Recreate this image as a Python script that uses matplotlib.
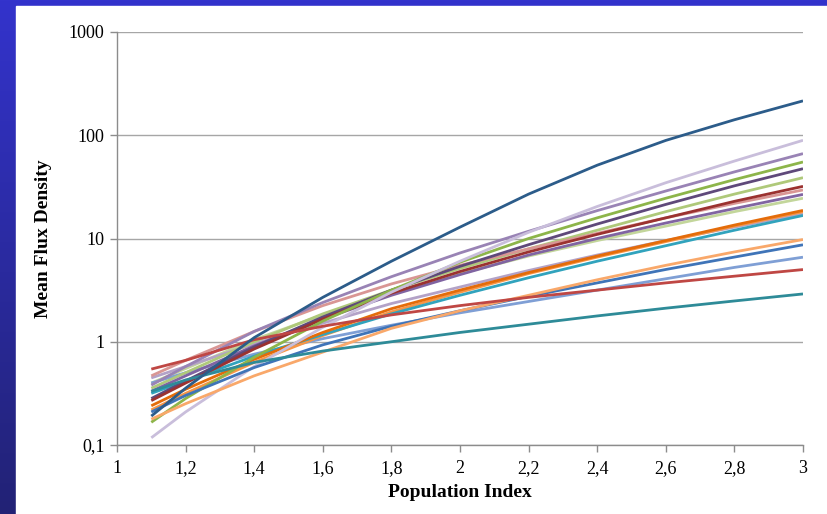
import numpy as np
import matplotlib
matplotlib.use('Agg')
import matplotlib.pyplot as plt
from matplotlib.patches import Rectangle

population_index = [1.1, 1.2, 1.4, 1.6, 1.8, 2.0, 2.2, 2.4, 2.6, 2.8, 3.0]

# mean flux density per curve (log10 of the value)
dark_blue = [-0.72, -0.45, 0.04, 0.43, 0.78, 1.11, 1.43, 1.71, 1.95, 2.15, 2.333]
pale_lilac = [-0.93, -0.68, -0.24, 0.14, 0.48, 0.78, 1.06, 1.31, 1.54, 1.75, 1.951]
mid_purple = [-0.42, -0.24, 0.10, 0.38, 0.63, 0.86, 1.07, 1.27, 1.46, 1.645, 1.822]
green = [-0.78, -0.55, -0.15, 0.20, 0.50, 0.77, 1.00, 1.20, 1.39, 1.57, 1.741]
dark_purple = [-0.55, -0.38, -0.05, 0.24, 0.50, 0.73, 0.94, 1.14, 1.33, 1.51, 1.676]
light_green = [-0.45, -0.30, 0.00, 0.27, 0.50, 0.71, 0.90, 1.08, 1.26, 1.43, 1.589]
dark_red = [-0.57, -0.40, -0.07, 0.22, 0.47, 0.68, 0.87, 1.04, 1.20, 1.36, 1.505]
rose = [-0.33, -0.18, 0.10, 0.35, 0.56, 0.74, 0.90, 1.05, 1.20, 1.34, 1.47]
purple = [-0.48, -0.33, -0.04, 0.22, 0.45, 0.65, 0.84, 1.00, 1.15, 1.29, 1.427]
pale_green = [-0.40, -0.26, 0.02, 0.26, 0.47, 0.66, 0.83, 0.98, 1.12, 1.26, 1.39]
orange = [-0.62, -0.46, -0.17, 0.09, 0.32, 0.50, 0.67, 0.83, 0.98, 1.13, 1.272]
orange2 = [-0.66, -0.50, -0.20, 0.06, 0.29, 0.48, 0.66, 0.82, 0.97, 1.12, 1.26]
lavender = [-0.35, -0.24, -0.02, 0.18, 0.37, 0.53, 0.69, 0.84, 0.98, 1.11, 1.24]
cyan = [-0.50, -0.38, -0.14, 0.07, 0.27, 0.45, 0.62, 0.78, 0.93, 1.08, 1.223]
peach = [-0.75, -0.60, -0.33, -0.10, 0.13, 0.30, 0.45, 0.60, 0.74, 0.87, 0.99]
blue = [-0.68, -0.52, -0.25, -0.03, 0.15, 0.30, 0.44, 0.57, 0.70, 0.82, 0.939]
steel_blue = [-0.40, -0.30, -0.12, 0.03, 0.16, 0.28, 0.39, 0.50, 0.61, 0.72, 0.819]
red = [-0.265, -0.18, 0.02, 0.15, 0.26, 0.35, 0.43, 0.50, 0.57, 0.635, 0.699]
teal = [-0.48, -0.37, -0.20, -0.09, 0.00, 0.09, 0.17, 0.25, 0.325, 0.395, 0.463]

curves = [
    (pale_green, '#c3d69b'), (lavender, '#b3a2c7'), (steel_blue, '#7f9fd5'),
    (light_green, '#afc97a'), (rose, '#d99694'), (purple, '#8064a2'),
    (orange2, '#f79646'), (cyan, '#31a3bd'), (orange, '#e46c0a'),
    (dark_purple, '#5f497a'), (dark_red, '#9b3230'), (green, '#8db54a'),
    (mid_purple, '#9983b5'), (pale_lilac, '#c9bedb'), (blue, '#3f74b8'),
    (peach, '#f9a86a'), (red, '#bf4744'), (teal, '#2e8b98'), (dark_blue, '#2c5c8a'),
]

y_ticks = [0.1, 1, 10, 100, 1000]
y_labels = ['0,1', '1', '10', '100', '1000']
x_ticks = [1, 1.2, 1.4, 1.6, 1.8, 2, 2.2, 2.4, 2.6, 2.8, 3]
x_labels = ['1', '1,2', '1,4', '1,6', '1,8', '2', '2,2', '2,4', '2,6', '2,8', '3']

plt.rcParams['font.family'] = ['Liberation Serif', 'DejaVu Serif']

fig = plt.figure(figsize=(8.28, 5.14), dpi=100)

# blue slide background with a white panel
bg = fig.add_axes([0, 0, 1, 1], zorder=-10)
grad = np.linspace(0, 1, 256).reshape(-1, 1)
top = np.array([0x33, 0x33, 0xcc]) / 255
bottom = np.array([0x22, 0x22, 0x75]) / 255
img = top + (bottom - top) * grad[:, :, None]
bg.imshow(img, aspect='auto', extent=[0, 1, 0, 1], origin='upper')
bg.add_patch(Rectangle((16 / 828, 0), 1, 1 - 6 / 514, color='white'))
bg.set_xlim(0, 1)
bg.set_ylim(0, 1)
bg.axis('off')

ax = fig.add_axes([117 / 828, 1 - 445 / 514, (803 - 117) / 828, (445 - 32) / 514])
ax.patch.set_alpha(0)

for vals, col in curves:
    ax.plot(population_index, 10 ** np.array(vals), color=col, lw=2.0,
            solid_capstyle='butt')

ax.set_yscale('log')
ax.set_ylim(0.1, 1000)
ax.set_xlim(1, 3)
ax.set_yticks(y_ticks)
ax.set_yticklabels(y_labels)
ax.minorticks_off()
ax.set_xticks(x_ticks)
ax.set_xticklabels(x_labels)
ax.grid(axis='y', color='#a6a6a6', lw=1.0)
ax.set_axisbelow(True)

for s in ['top', 'right']:
    ax.spines[s].set_visible(False)
for s in ['left', 'bottom']:
    ax.spines[s].set_color('#8c8c8c')
    ax.spines[s].set_linewidth(1.0)
ax.tick_params(colors='#8c8c8c', length=5, width=1.0, labelcolor='black',
               labelsize=13)
ax.tick_params(axis='x', pad=6)
ax.tick_params(axis='y', pad=4)

ax.set_xlabel('Population Index', fontsize=14, fontweight='bold', labelpad=5)
ax.set_ylabel('Mean Flux Density', fontsize=14, fontweight='bold', labelpad=12)

fig.savefig('out.png', dpi=100)
